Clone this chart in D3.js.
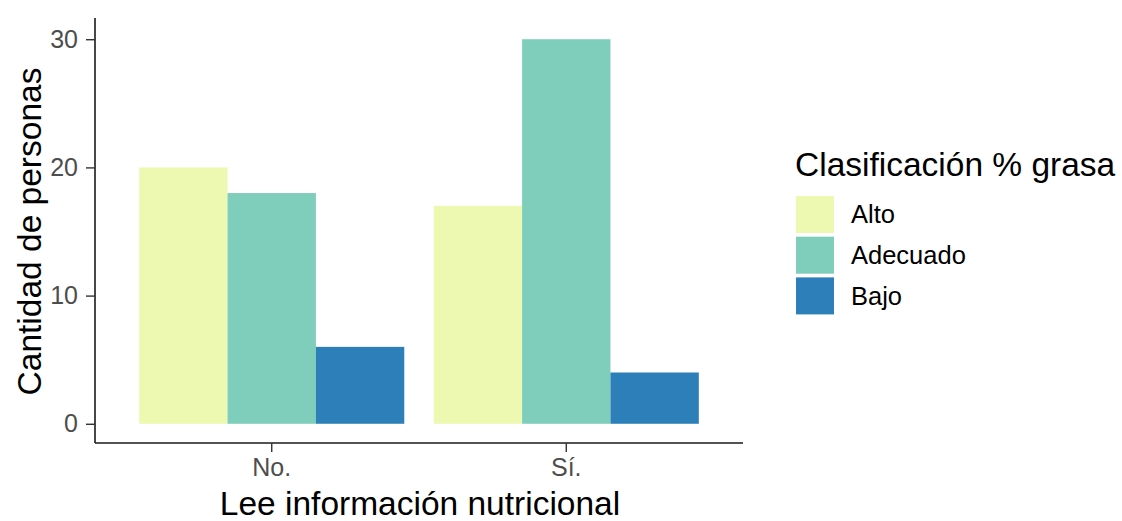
<!DOCTYPE html>
<html>
<head>
<meta charset="utf-8">
<script src="https://cdn.jsdelivr.net/npm/d3@7"></script>
<style>
  html, body { margin: 0; padding: 0; background: #fff; }
  svg { display: block; font-family: "Liberation Sans", Arial, Helvetica, sans-serif; }
</style>
</head>
<body>
<svg id="chart" width="1122" height="521"></svg>
<script>
const categories = ["No.", "Sí."];
const groups = ["Alto", "Adecuado", "Bajo"];
const alto = [20, 17];
const adecuado = [18, 30];
const bajo = [6, 4];
const yTicks = [0, 10, 20, 30];
const colors = ["#EDF8B1", "#7FCDBB", "#2C7FB8"];

const seriesValues = [alto, adecuado, bajo];
const data = [];
categories.forEach((c, i) => {
  groups.forEach((g, j) => data.push({ cat: c, group: g, value: seriesValues[j][i] }));
});

const svg = d3.select("#chart");
const panel = { left: 95, right: 743, top: 20, bottom: 443 };

const x = d3.scaleBand().domain(categories).range([panel.left, panel.right])
  .paddingInner(0.1).paddingOuter(0.15);
const xg = d3.scaleBand().domain(groups).range([0, x.bandwidth()]).padding(0);
const y = d3.scaleLinear().domain([-1.5, 31.5]).range([panel.bottom, panel.top]);
const color = d3.scaleOrdinal().domain(groups).range(colors);

// bars
svg.append("g").selectAll("rect").data(data).join("rect")
  .attr("x", d => x(d.cat) + xg(d.group))
  .attr("width", xg.bandwidth())
  .attr("y", d => y(d.value))
  .attr("height", d => y(0) - y(d.value))
  .attr("fill", d => color(d.group));

// y axis
const yAxis = svg.append("g").attr("transform", `translate(${panel.left},0)`)
  .call(d3.axisLeft(y).tickValues(yTicks).tickSize(9).tickPadding(8));
yAxis.select(".domain").attr("d", `M0,${panel.top - 2}V${panel.bottom}`).attr("stroke", "#1a1a1a").attr("stroke-width", 1.6);
yAxis.selectAll(".tick line").attr("stroke", "#333").attr("stroke-width", 1.4);
yAxis.selectAll(".tick text").attr("fill", "#4D4D4D").style("font-size", "25px")
  .style("font-family", "'Liberation Sans', Arial, sans-serif");

// x axis
const xAxis = svg.append("g").attr("transform", `translate(0,${panel.bottom})`)
  .call(d3.axisBottom(x).tickSize(9).tickPadding(6));
xAxis.select(".domain").attr("d", `M${panel.left},0H${panel.right}`).attr("stroke", "#1a1a1a").attr("stroke-width", 1.6);
xAxis.selectAll(".tick line").attr("stroke", "#333").attr("stroke-width", 1.4);
xAxis.selectAll(".tick text").attr("fill", "#4D4D4D").style("font-size", "25px")
  .style("font-family", "'Liberation Sans', Arial, sans-serif");

// axis titles
svg.append("text").attr("x", (panel.left + panel.right) / 2 + 1).attr("y", 515)
  .attr("text-anchor", "middle").attr("fill", "#000").style("font-size", "33.5px")
  .text("Lee información nutricional");
svg.append("text")
  .attr("transform", `translate(41,${(panel.top + panel.bottom) / 2}) rotate(-90)`)
  .attr("text-anchor", "middle").attr("fill", "#000").style("font-size", "33.5px")
  .text("Cantidad de personas");

// legend
const legend = svg.append("g").attr("transform", "translate(795,0)");
legend.append("text").attr("x", 0).attr("y", 176).attr("fill", "#000").style("font-size", "33.5px")
  .text("Clasificación % grasa");
const items = legend.selectAll("g.item").data(groups).join("g").attr("class", "item")
  .attr("transform", (d, i) => `translate(0,${195 + i * 40.7})`);
items.append("rect").attr("x", 1).attr("y", 1).attr("width", 38).attr("height", 37)
  .attr("fill", d => color(d));
items.append("text").attr("x", 56).attr("y", 19.5).attr("dy", "0.35em")
  .attr("fill", "#000").style("font-size", "25.5px").text(d => d);
</script>
</body>
</html>
